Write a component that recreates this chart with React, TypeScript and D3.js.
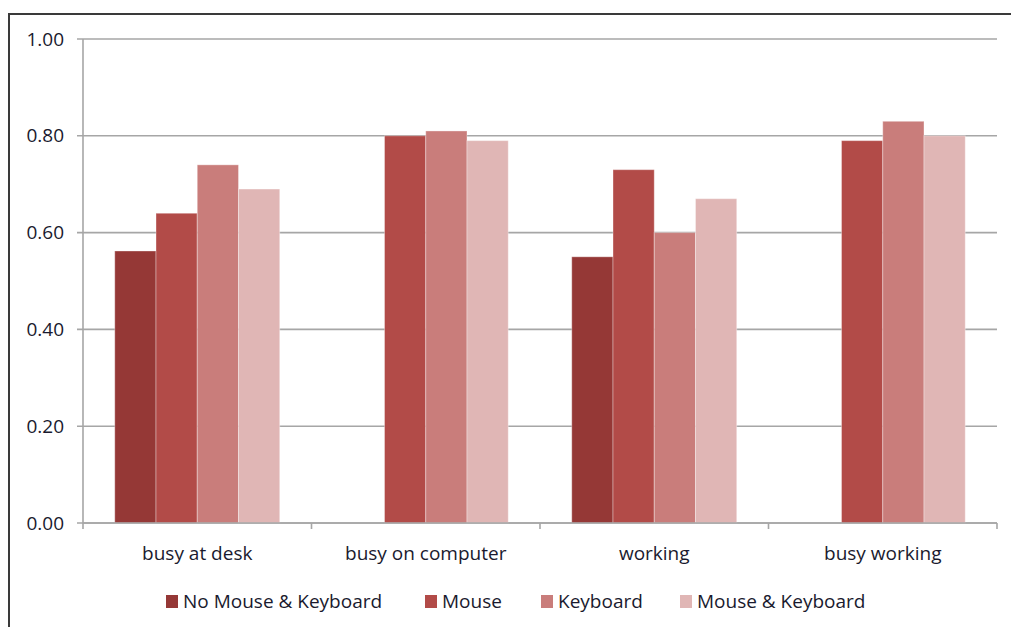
import React from 'react';
import { scaleBand, scaleLinear } from 'd3';

const categories = ['busy at desk', 'busy on computer', 'working', 'busy working'];
const seriesNames = ['No Mouse & Keyboard', 'Mouse', 'Keyboard', 'Mouse & Keyboard'];
const seriesColors = ['#953836', '#B24B48', '#C97D7B', '#E0B6B5'];
// one array per series, null = no bar
const noMouseKeyboard = [0.562, null, 0.55, null];
const mouse = [0.64, 0.80, 0.73, 0.79];
const keyboard = [0.74, 0.81, 0.60, 0.83];
const mouseKeyboard = [0.69, 0.79, 0.67, 0.80];
const yTicks = [0, 0.2, 0.4, 0.6, 0.8, 1.0];

const series = [noMouseKeyboard, mouse, keyboard, mouseKeyboard];

const W = 1011;
const H = 627;
const left = 83;
const right = 997;
const top = 39;
const bottom = 523;
const font = "'Open Sans', sans-serif";
const textColor = '#1a1a2e';
const fs = 19;

const App = () => {
  const x = scaleBand<string>().domain(categories).range([left, right]);
  const inner = scaleBand<number>()
    .domain(seriesNames.map((_, i) => i))
    .range([0, x.bandwidth()])
    .paddingOuter(0.77)
    .paddingInner(0);
  const y = scaleLinear().domain([0, 1]).range([bottom, top]);

  return (
    <svg width={W} height={H} style={{ position: 'absolute', left: 0, top: 0 }}>
      <rect x={0} y={0} width={W} height={H} fill="#fff" />
      <rect x={9} y={14} width={W + 20} height={H + 20} fill="none" stroke="#3a3a3a" strokeWidth={2} />

      {/* gridlines + y ticks */}
      {yTicks.map(t => (
        <g key={t}>
          <line x1={77} x2={right} y1={y(t)} y2={y(t)} stroke="#a6a6a6" strokeWidth={1.6} />
          <text x={64} y={y(t)} dy="0.35em" textAnchor="end" fontFamily={font} fontSize={fs} fill={textColor}>
            {t.toFixed(2)}
          </text>
        </g>
      ))}
      <line x1={left} x2={left} y1={top} y2={bottom + 6} stroke="#a6a6a6" strokeWidth={1.6} />

      {/* bars */}
      {categories.map((c, ci) =>
        series.map((s, si) => {
          const v = s[ci];
          if (v == null) return null;
          return (
            <rect
              key={c + si}
              x={(x(c) ?? 0) + (inner(si) ?? 0)}
              y={y(v)}
              width={inner.bandwidth()}
              height={bottom - y(v)}
              fill={seriesColors[si]}
              stroke="rgba(255,255,255,0.35)"
              strokeWidth={1}
            />
          );
        })
      )}

      {/* x axis */}
      <line x1={left} x2={right} y1={bottom} y2={bottom} stroke="#a6a6a6" strokeWidth={1.6} />
      {categories.map(c => (
        <line key={c} x1={(x(c) ?? 0) + x.bandwidth()} x2={(x(c) ?? 0) + x.bandwidth()} y1={bottom} y2={bottom + 6} stroke="#a6a6a6" strokeWidth={1.6} />
      ))}
      {categories.map(c => (
        <text key={c} x={(x(c) ?? 0) + x.bandwidth() / 2} y={553} dy="0.35em" textAnchor="middle" fontFamily={font} fontSize={fs} fill={textColor}>
          {c}
        </text>
      ))}

      {/* legend */}
      {seriesNames.map((n, i) => {
        const lx = [166, 425, 541, 680][i];
        return (
          <g key={n}>
            <rect x={lx} y={595} width={12} height={13} fill={seriesColors[i]} />
            <text x={lx + 17} y={601} dy="0.35em" fontFamily={font} fontSize={fs} fill={textColor}>
              {n}
            </text>
          </g>
        );
      })}
    </svg>
  );
};

export default App;
